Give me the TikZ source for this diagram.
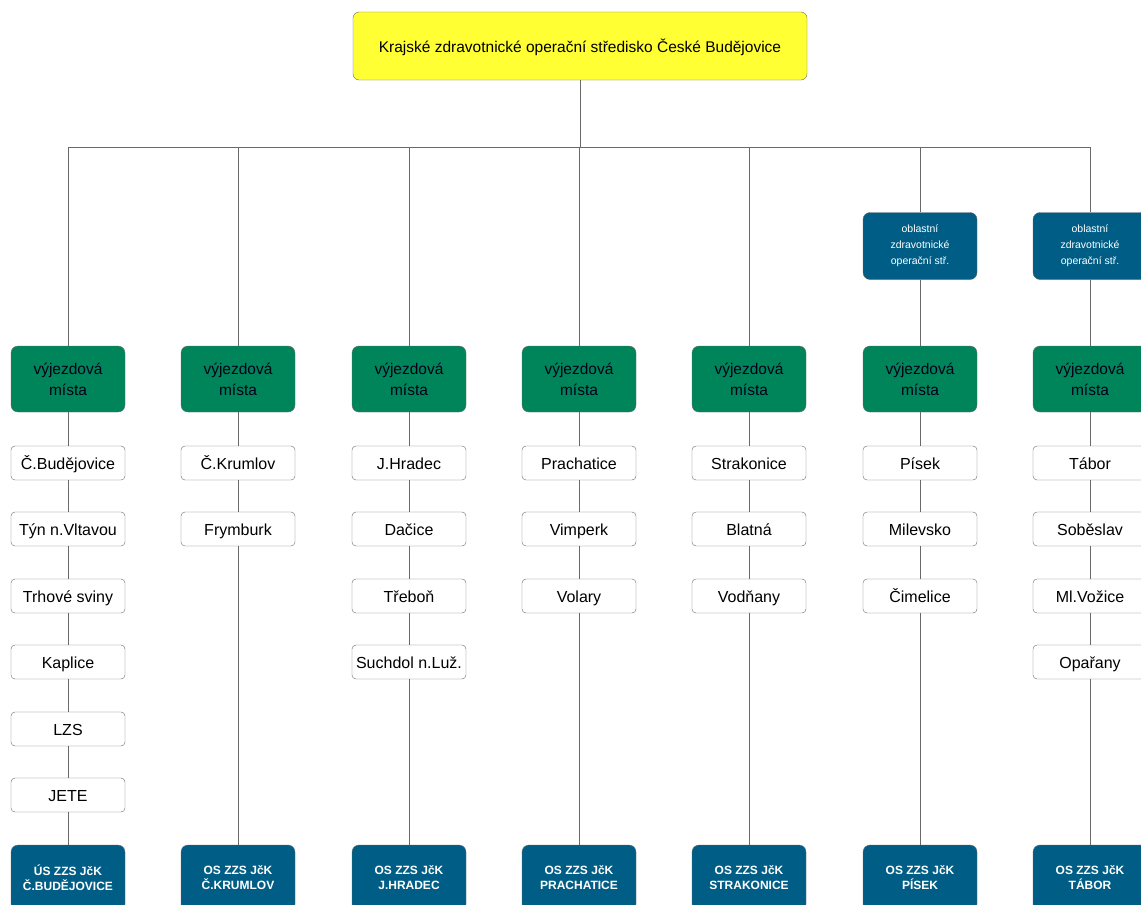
\documentclass[tikz,border=0pt]{standalone}
\usepackage{fontspec}
\setmainfont{Liberation Sans}
\definecolor{zluta}{RGB}{255,255,51}
\definecolor{zelena}{RGB}{0,133,90}
\definecolor{modra}{RGB}{0,94,134}
\definecolor{cara}{RGB}{105,105,105}
\tikzstyle{krajske} = [draw=cara, fill=zluta, rounded corners=6pt, minimum width=454pt, minimum height=68pt, text height=13pt, text depth=1pt, font={\fontsize{15.5}{17}\selectfont}]
\tikzstyle{vyjezd} = [draw=cara, fill=zelena, rounded corners=7pt, minimum width=114pt, minimum height=66pt, align=center, text={black!90!blue}, font={\fontsize{15.5}{21}\selectfont}]
\tikzstyle{misto} = [draw=cara, fill=white, rounded corners=4pt, minimum width=114pt, minimum height=34pt, text height=13.5pt, text depth=1.5pt, font={\fontsize{16}{18}\selectfont}]
\tikzstyle{oblast} = [draw=cara, fill=modra, text=white, rounded corners=7pt, minimum width=114pt, minimum height=67pt, align=center, font={\fontsize{10.5}{16}\selectfont}]
\tikzstyle{oszzs} = [draw=cara, fill=modra, text=white, rounded corners=7pt, minimum width=114pt, minimum height=66pt, align=center, font={\bfseries\fontsize{12}{15}\selectfont}]
\tikzstyle{spoj} = [draw=cara, line width=0.8pt]

\begin{document}
\begin{tikzpicture}[x=1pt,y=-1pt]
    \useasboundingbox (0,0) rectangle (1141,905);
    \clip (0,0) rectangle (1141,905);
    % vrchol
    \node[krajske](top) at (580,46){Krajské zdravotnické operační středisko České Budějovice};
    \coordinate (j1) at (68,147);
    \coordinate (j2) at (238,147);
    \coordinate (j3) at (409,147);
    \coordinate (j4) at (579,147);
    \coordinate (j5) at (749,147);
    \coordinate (j6) at (920,147);
    \coordinate (j7) at (1090,147);
    \draw[spoj](top)--(top |- j1);
    \draw[spoj](j1)--(j7);
    % oblastni strediska
    \node[oblast](obl6) at (920,246){oblastní\\zdravotnické\\operační stř.};
    \node[oblast](obl7) at (1090,246){oblastní\\zdravotnické\\operační stř.};
    % vyjezdova mista
    \node[vyjezd](vm1) at (68,379){výjezdová\\místa};
    \node[vyjezd](vm2) at (238,379){výjezdová\\místa};
    \node[vyjezd](vm3) at (409,379){výjezdová\\místa};
    \node[vyjezd](vm4) at (579,379){výjezdová\\místa};
    \node[vyjezd](vm5) at (749,379){výjezdová\\místa};
    \node[vyjezd](vm6) at (920,379){výjezdová\\místa};
    \node[vyjezd](vm7) at (1090,379){výjezdová\\místa};
    % mista
    \node[misto](m1a) at (68,463){Č.Budějovice};
    \node[misto](m1b) at (68,529){Týn n.Vltavou};
    \node[misto](m1c) at (68,596){Trhové sviny};
    \node[misto](m1d) at (68,662){Kaplice};
    \node[misto](m1e) at (68,729){LZS};
    \node[misto](m1f) at (68,795){JETE};
    \node[misto](m2a) at (238,463){Č.Krumlov};
    \node[misto](m2b) at (238,529){Frymburk};
    \node[misto](m3a) at (409,463){J.Hradec};
    \node[misto](m3b) at (409,529){Dačice};
    \node[misto](m3c) at (409,596){Třeboň};
    \node[misto](m3d) at (409,662){Suchdol n.Luž.};
    \node[misto](m4a) at (579,463){Prachatice};
    \node[misto](m4b) at (579,529){Vimperk};
    \node[misto](m4c) at (579,596){Volary};
    \node[misto](m5a) at (749,463){Strakonice};
    \node[misto](m5b) at (749,529){Blatná};
    \node[misto](m5c) at (749,596){Vodňany};
    \node[misto](m6a) at (920,463){Písek};
    \node[misto](m6b) at (920,529){Milevsko};
    \node[misto](m6c) at (920,596){Čimelice};
    \node[misto](m7a) at (1090,463){Tábor};
    \node[misto](m7b) at (1090,529){Soběslav};
    \node[misto](m7c) at (1090,596){Ml.Vožice};
    \node[misto](m7d) at (1090,662){Opařany};
    % stanoviste
    \node[oszzs](os1) at (68,878){ÚS ZZS JčK\\Č.BUDĚJOVICE};
    \node[oszzs](os2) at (238,878){OS ZZS JčK\\Č.KRUMLOV};
    \node[oszzs](os3) at (409,878){OS ZZS JčK\\J.HRADEC};
    \node[oszzs](os4) at (579,878){OS ZZS JčK\\PRACHATICE};
    \node[oszzs](os5) at (749,878){OS ZZS JčK\\STRAKONICE};
    \node[oszzs](os6) at (920,878){OS ZZS JčK\\PÍSEK};
    \node[oszzs](os7) at (1090,878){OS ZZS JčK\\TÁBOR};
    % spoje
    \draw[spoj](j1)--(vm1)--(m1a)--(m1b)--(m1c)--(m1d)--(m1e)--(m1f)--(os1);
    \draw[spoj](j2)--(vm2)--(m2a)--(m2b)--(os2);
    \draw[spoj](j3)--(vm3)--(m3a)--(m3b)--(m3c)--(m3d)--(os3);
    \draw[spoj](j4)--(vm4)--(m4a)--(m4b)--(m4c)--(os4);
    \draw[spoj](j5)--(vm5)--(m5a)--(m5b)--(m5c)--(os5);
    \draw[spoj](j6)--(obl6)--(vm6)--(m6a)--(m6b)--(m6c)--(os6);
    \draw[spoj](j7)--(obl7)--(vm7)--(m7a)--(m7b)--(m7c)--(m7d)--(os7);
  \end{tikzpicture}
\end{document}
